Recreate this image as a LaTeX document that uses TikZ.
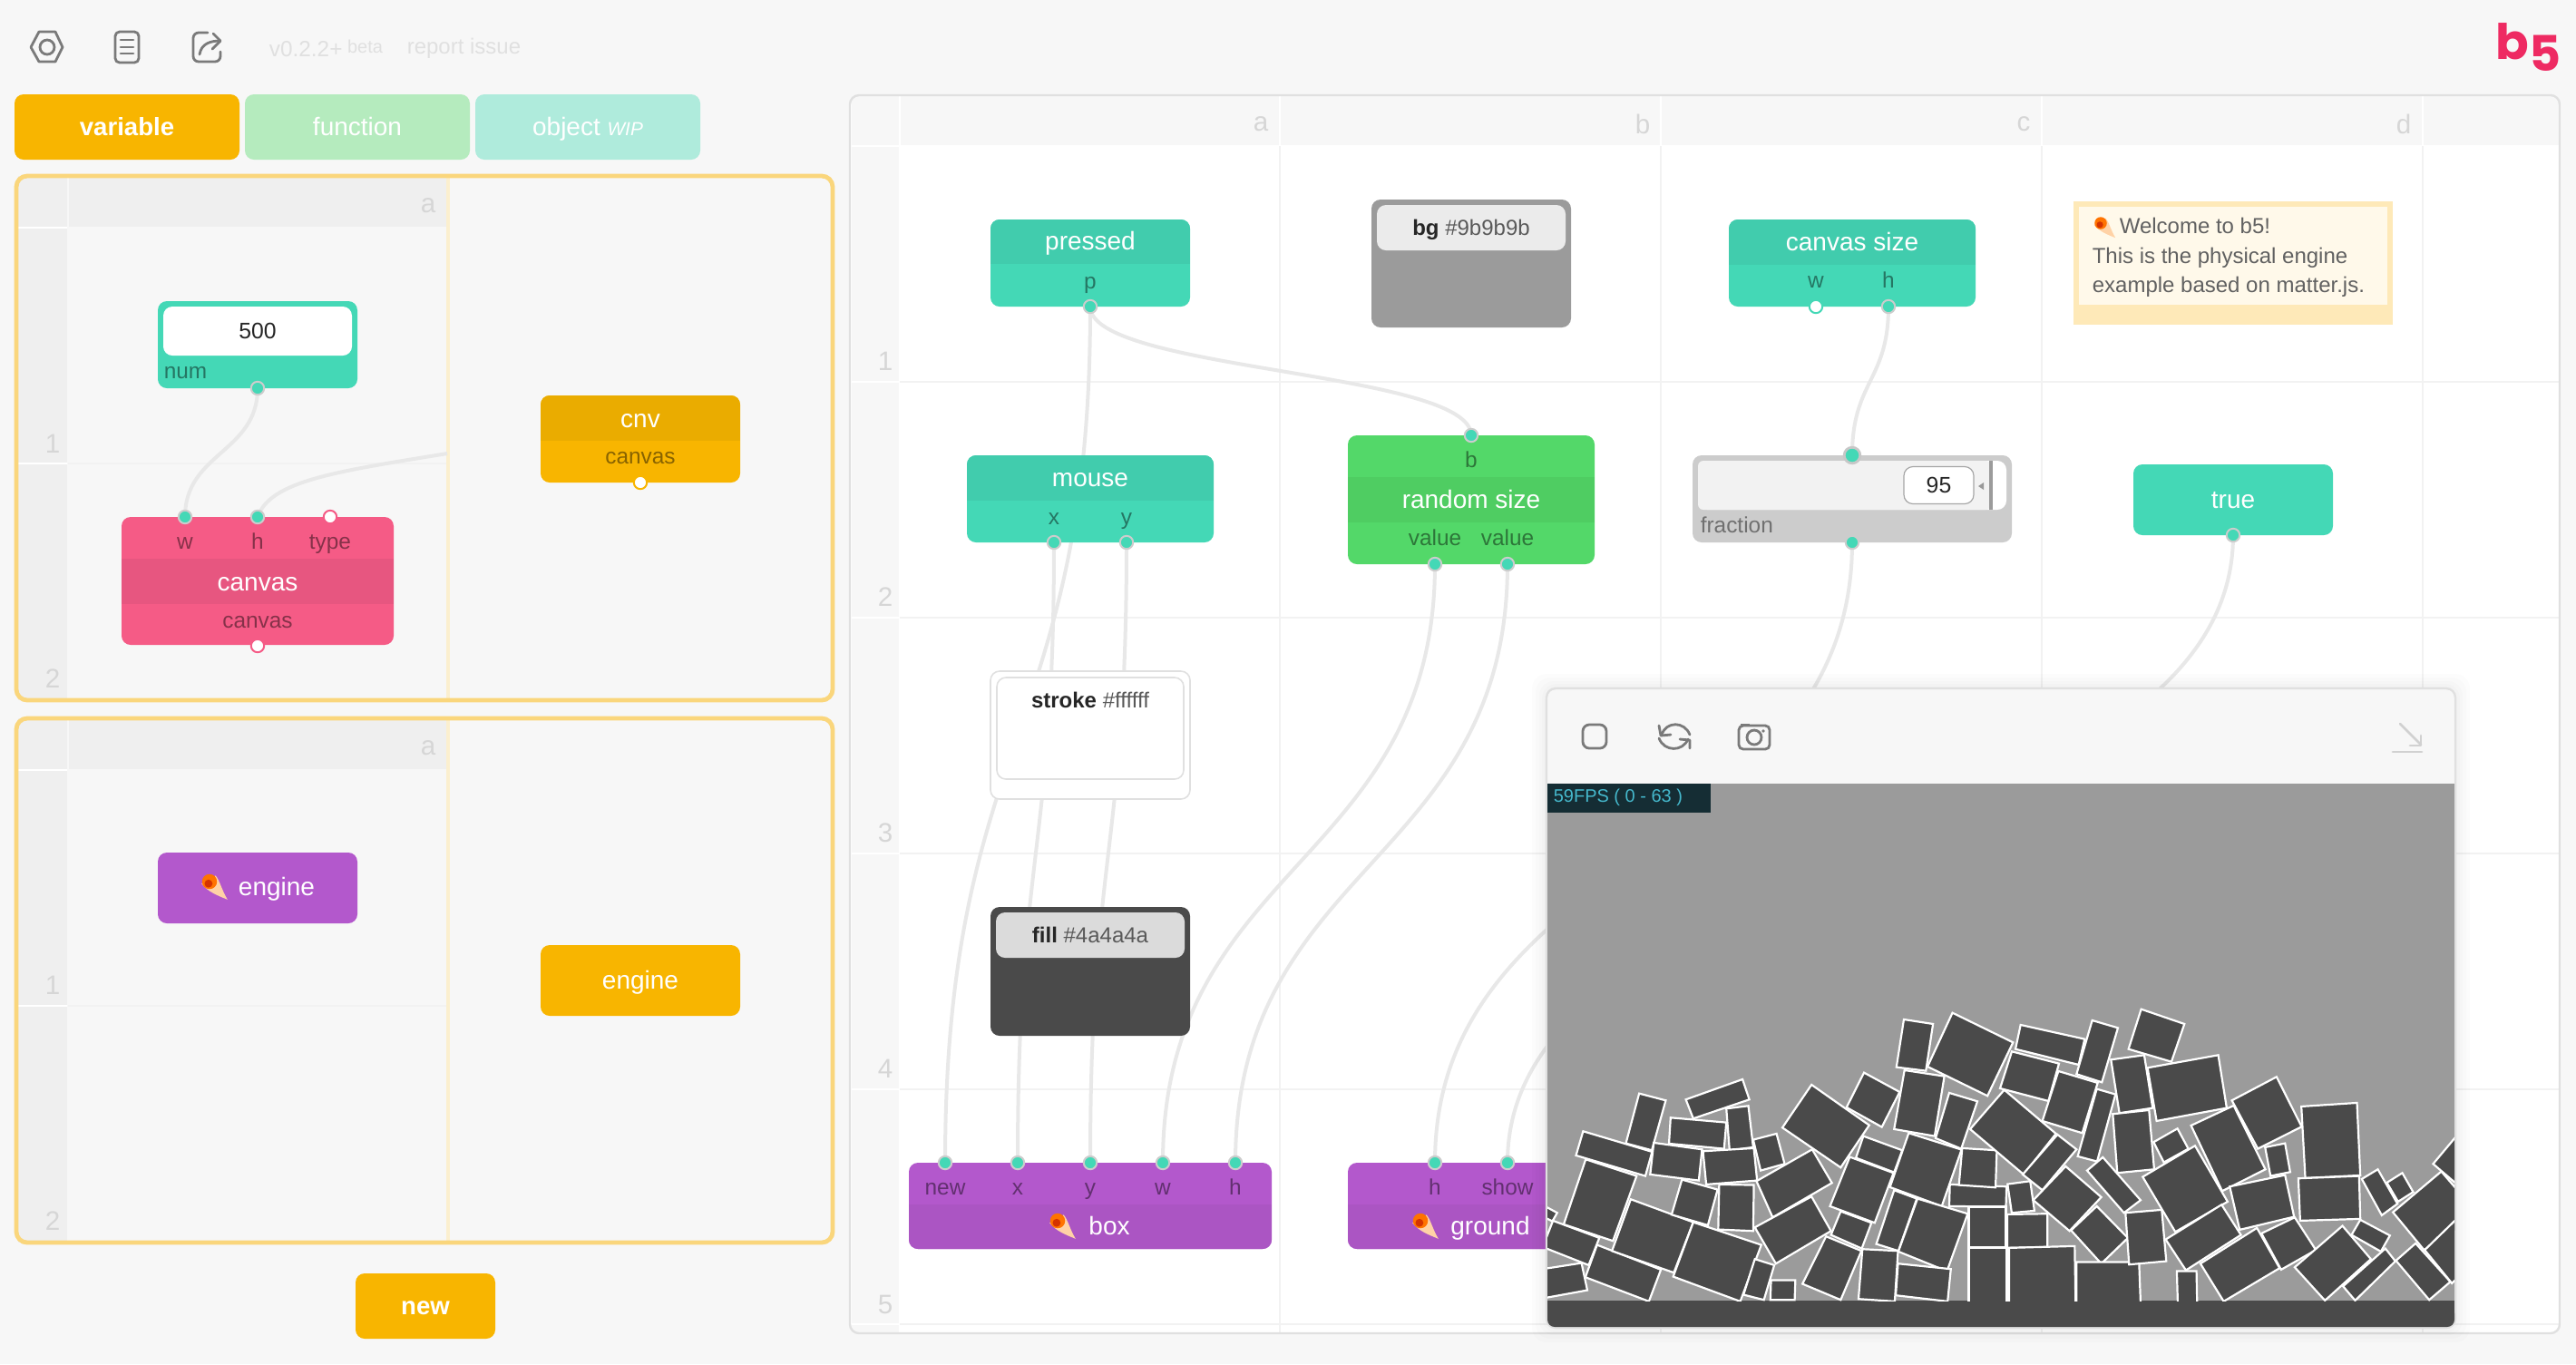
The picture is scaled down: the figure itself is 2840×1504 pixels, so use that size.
\documentclass[tikz,border=0pt]{standalone}
\usepackage{fontspec}
\setmainfont{Liberation Sans}
\newfontfamily\logofont{Poppins}
\usepackage{tikz}
\usetikzlibrary{arrows.meta}
\pgfdeclarelayer{back}
\pgfdeclarelayer{wires}
\pgfsetlayers{back,wires,main}
\definecolor{page}{HTML}{F7F7F7}
\definecolor{mint}{HTML}{44D8B6}
\definecolor{darkmint}{HTML}{41CCAD}
\definecolor{rose}{HTML}{F55B86}
\definecolor{darkrose}{HTML}{E75680}
\definecolor{amber}{HTML}{F8B500}
\definecolor{darkamber}{HTML}{EAAC00}
\definecolor{leaf}{HTML}{53D869}
\definecolor{darkleaf}{HTML}{4FCD62}
\definecolor{plum}{HTML}{B358CC}
\definecolor{darkplum}{HTML}{AB55C3}
\definecolor{edge}{HTML}{FAD67C}
\definecolor{divider}{HTML}{FBEFCF}
\definecolor{gridline}{HTML}{F2F2F2}
\definecolor{rowhead}{HTML}{EFEFEF}
\definecolor{hint}{HTML}{D6D6D6}
\definecolor{brickgray}{HTML}{4A4A4A}
\definecolor{skygray}{HTML}{9B9B9B}
\definecolor{icongray}{HTML}{7A7A7A}
\definecolor{fntab}{HTML}{B5EBBE}
\definecolor{objtab}{HTML}{AFEBDC}
\definecolor{notedge}{HTML}{FEE9B8}
\definecolor{notefill}{HTML}{FFF9EA}
\definecolor{logopink}{HTML}{EE2A62}
\definecolor{fpsback}{HTML}{152D34}
\definecolor{fpstext}{HTML}{45B8CC}
\tikzset{
  size/.style 2 args={minimum width=#1*.25pt,minimum height=#2*.25pt},
  tile/.style={rounded corners=2.5pt,inner sep=0pt,outer sep=0pt},
  title/.style={inner sep=0pt,text=white,font=\fontsize{7}{8}\selectfont,text height=5.9pt,text depth=1.4pt},
  tag/.style={inner sep=0pt,text=black,text opacity=.45,font=\fontsize{6.1}{7}\selectfont,text height=4.9pt,text depth=1.2pt},
  head/.style={inner sep=0pt,text=hint,font=\fontsize{7.4}{8}\selectfont},
  dark/.style={inner sep=0pt,text=black!85,font=\fontsize{6}{7}\selectfont,text height=5.2pt,text depth=1.2pt},
  port/.style={circle,inner sep=0pt,minimum size=3.6pt,line width=.5pt,fill=mint,draw=black!20},
  openport/.style={circle,inner sep=0pt,minimum size=3.6pt,line width=.5pt,fill=white,draw=#1},
  wire/.style={draw=black!9,line width=1pt},
  icon/.style={draw=icongray,line width=.7pt,line cap=round,line join=round},
  brick/.style={fill=brickgray,draw=white,line width=.55pt,line join=miter},
  comet/.pic={
    \fill[orange!35!white] (-8,2) .. controls (-2,10) and (8,14) .. (18,18)
      .. controls (12,8) and (10,-2) .. (6,-6) -- cycle;
    \fill[orange!90!red] (0,0) circle[radius=7.5];
    \fill[red!70!black,opacity=.55] (-1,2) circle[radius=4];
  },
}
\newcommand\band[4]{%
  \begin{scope}
    \clip[rounded corners=2.5pt] (#1.south west) rectangle (#1.north east);
    \fill[#2] (#1.west |- 0,#3) rectangle (#1.east |- 0,#4);
  \end{scope}}
\newcommand\wirelink[3]{\draw[wire] (#1.center) .. controls +(0,#3) and +(0,-#3) .. (#2.center);}
\newcommand\brk[4]{\draw[brick] #1 -- #2 -- #3 -- #4 -- cycle;}

\begin{document}
\begin{tikzpicture}[x=.25pt,y=-.25pt]
  \useasboundingbox (0,0) rectangle (2840,1504);

  \begin{pgfonlayer}{back}
  \fill[page] (0,0) rectangle (2840,1504);

  %% left panels
  \foreach \top/\bot/\hb/\row in {194/772/250/511, 792/1370/848/1109}{
    \fill[rowhead] (20,\top) rectangle (74,\bot);
    \fill[rowhead] (76,\top) rectangle (493,\hb);
    \draw[white,line width=.5pt] (20,\hb+1) -- (74,\hb+1);
    \draw[white,line width=.5pt] (20,\row) -- (74,\row);
    \draw[gridline,line width=.5pt] (75,\row) -- (493,\row);
    \draw[divider,line width=.9pt] (494,\top) -- (494,\bot);
    \draw[edge,line width=1.2pt,rounded corners=3pt] (18,\top) rectangle (918,\bot);
  }

  %% main sheet
  \fill[white,rounded corners=2.5pt] (937,105) rectangle (2822,1470);
  \fill[page] (939,106) rectangle (2821,160);
  \fill[page] (939,106) rectangle (991,1469);
  \foreach \cx in {1411,1831,2251,2671}{
    \draw[gridline,line width=.4pt] (\cx,161) -- (\cx,1469);
    \draw[white,line width=.5pt] (\cx,106) -- (\cx,160);
  }
  \foreach \cy in {421,681,941,1201,1460}{
    \draw[gridline,line width=.5pt] (992,\cy) -- (2821,\cy);
    \draw[white,line width=.5pt] (939,\cy) -- (991,\cy);
  }
  \draw[white,line width=.5pt] (992,106) -- (992,160);
  \draw[white,line width=.5pt] (939,161) -- (991,161);
  \draw[black!12,line width=.6pt,rounded corners=2.5pt] (937,105) rectangle (2822,1470);
  \end{pgfonlayer}

  %% head labels
  \node[head] (lefta) at (472,227) {a};
  \node[head] (leftone) at (58,489) {1};
  \node[head] (lefttwo) at (58,748) {2};
  \node[head] (lowera) at (472,825) {a};
  \node[head] (lowerone) at (58,1086) {1};
  \node[head] (lowertwo) at (58,1346) {2};
  \node[head] (cola) at (1390,137) {a};
  \node[head] (colb) at (1811,137) {b};
  \node[head] (colc) at (2231,137) {c};
  \node[head] (cold) at (2650,137) {d};
  \node[head] (rowone) at (976,398) {1};
  \node[head] (rowtwo) at (976,658) {2};
  \node[head] (rowthree) at (976,918) {3};
  \node[head] (rowfour) at (976,1178) {4};
  \node[head] (rowfive) at (976,1438) {5};

  %% top bar
  \draw[icon] (34,52) -- (43,35) -- (61,35) -- (69,52) -- (61,68) -- (43,68) -- cycle;
  \draw[icon] (52,52) circle[radius=8];
  \draw[icon,rounded corners=1.2pt] (127,35) rectangle (153,69);
  \foreach \ly in {44,52,59} \draw[icon] (133,\ly) -- (147,\ly);
  \draw[icon,rounded corners=1.5pt] (229,36) -- (213,36) -- (213,68) -- (243,68) -- (243,57);
  \draw[icon] (235,37) -- (243,45) -- (234,54);
  \draw[icon] (220,60) .. controls (222,48) and (232,45) .. (243,45);
  \node[anchor=west,inner sep=0pt,text=black!12,font=\fontsize{6.1}{7}\selectfont] (version) at (296,53)
    {v0.2.2+\raisebox{1pt}{\fontsize{5}{6}\selectfont\ beta}};
  \node[anchor=west,inner sep=0pt,text=black!12,font=\fontsize{6}{7}\selectfont] (report) at (448,53) {report issue};
  \node[anchor=east,inner sep=0pt,text=logopink,font=\logofont\bfseries\fontsize{13.5}{15}\selectfont] (logo) at (2824,52)
    {b\raisebox{-3.4pt}{5}};

  %% tabs
  \node[tile,size={248}{72},fill=amber] (vartab) at (140,140) {};
  \node[title,font=\bfseries\fontsize{6.9}{8}\selectfont] (vartxt) at (140,140) {variable};
  \node[tile,size={248}{72},fill=fntab] (funtab) at (394,140) {};
  \node[title] (funtxt) at (394,140) {function};
  \node[tile,size={248}{72},fill=objtab] (objtabbtn) at (648,140) {};
  \node[title] (objtxt) at (648,140) {object {\itshape\fontsize{5.2}{6}\selectfont WIP}};

  %% upper panel
  \node[tile,size={220}{96},fill=mint] (num) at (284,380) {};
  \node[tile,size={208}{54},fill=white,text=black!85,font=\fontsize{6.2}{7}\selectfont] (numbox) at (284,365) {500};
  \node[tag,anchor=west] (numtag) at (180,410) {num};
  \node[port] (numout) at (284,428) {};

  \node[tile,size={300}{141},fill=rose] (canvas) at (284,640.5) {};
  \band{canvas}{darkrose}{616}{666}
  \node[title] (canvastxt) at (284,642) {canvas};
  \node[tag] (canvasw) at (204,598) {w};
  \node[tag] (canvash) at (284,598) {h};
  \node[tag] (canvastype) at (364,598) {type};
  \node[tag] (canvastag) at (284,685) {canvas};
  \node[port] (canvaswin) at (204,570) {};
  \node[port] (canvashin) at (284,570) {};
  \node[openport=rose] (canvastypein) at (364,570) {};
  \node[openport=rose] (canvasout) at (284,712) {};

  \node[tile,size={220}{96},fill=amber] (cnv) at (706,484) {};
  \band{cnv}{darkamber}{436}{486}
  \node[title] (cnvtxt) at (706,462) {cnv};
  \node[tag] (cnvtag) at (706,504) {canvas};
  \node[openport=amber] (cnvout) at (706,532) {};
  \coordinate (cnvedge) at (493,500);

  %% lower panel
  \node[tile,size={220}{78},fill=plum] (engine) at (284,979) {};
  \pic[scale=1.1] at (231,972) {comet};
  \node[title] (enginetxt) at (305,978) {engine};
  \node[tile,size={220}{78},fill=amber] (enginevar) at (706,1081) {};
  \node[title] (enginevartxt) at (706,1081) {engine};
  \node[tile,size={154}{72},fill=amber] (newbtn) at (469,1440) {};
  \node[title,font=\bfseries\fontsize{6.9}{8}\selectfont] (newtxt) at (469,1440) {new};

  %% row 1
  \node[tile,size={220}{96},fill=mint] (pressed) at (1202,290) {};
  \band{pressed}{darkmint}{242}{291}
  \node[title] (pressedtxt) at (1202,266) {pressed};
  \node[tag] (pressedp) at (1202,311) {p};
  \node[port] (pout) at (1202,338) {};

  \node[tile,size={220}{141},fill=skygray] (bg) at (1622,290.5) {};
  \node[tile,size={208}{50},fill=black!8] (bgbox) at (1622,251) {};
  \node[dark] (bgtxt) at (1622,251) {\textbf{bg} {\color{black!65}\#9b9b9b}};

  \node[tile,size={272}{96},fill=mint] (size) at (2042,290) {};
  \band{size}{darkmint}{242}{292}
  \node[title] (sizetxt) at (2042,267) {canvas size};
  \node[tag] (sizew) at (2002,310) {w};
  \node[tag] (sizeh) at (2082,310) {h};
  \node[openport=mint] (sizewout) at (2002,338) {};
  \node[port] (sizehout) at (2082,338) {};

  \node[size={352}{136},fill=notedge,inner sep=0pt] (note) at (2462,290) {};
  \node[size={340}{108},fill=notefill,inner sep=0pt] (notebox) at (2462,282) {};
  \pic[scale=.9] at (2316,246) {comet};
  \node[anchor=west,inner sep=0pt,align=left,text=black!62,font=\fontsize{6}{8.1}\selectfont] (notetxt) at (2306,284)
    {\hspace{7.5pt}Welcome to b5!\\This is the physical engine\\example based on matter.js.};

  %% row 2
  \node[tile,size={272}{96},fill=mint] (mouse) at (1202,550) {};
  \band{mouse}{darkmint}{502}{552}
  \node[title] (mousetxt) at (1202,527) {mouse};
  \node[tag] (mousex) at (1162,571) {x};
  \node[tag] (mousey) at (1242,571) {y};
  \node[port] (mousexout) at (1162,598) {};
  \node[port] (mouseyout) at (1242,598) {};

  \node[tile,size={272}{142},fill=leaf] (random) at (1622,551) {};
  \band{random}{darkleaf}{526}{576}
  \node[title] (randomtxt) at (1622,551) {random size};
  \node[tag] (randomb) at (1622,508) {b};
  \node[tag] (randomva) at (1582,594) {value};
  \node[tag] (randomvb) at (1662,594) {value};
  \node[port] (randomin) at (1622,480) {};
  \node[port] (randomaout) at (1582,622) {};
  \node[port] (randombout) at (1662,622) {};

  \node[tile,size={352}{96},fill=black!20] (fraction) at (2042,550) {};
  \node[tile,size={340}{54},fill=white] (slider) at (2042,535) {};
  \fill[black!5,rounded corners=1.5pt] (1872,508) rectangle (2195,562);
  \draw[skygray,line width=.8pt] (2195,508) -- (2195,562);
  \node[tile,size={77}{41},fill=white,draw=black!35,line width=.3pt,text=black!85,font=\fontsize{6.2}{7}\selectfont] (fracval) at (2137.5,535) {95};
  \fill[black!40] (2181,536) -- (2187,532) -- (2187,540) -- cycle;
  \node[tag,anchor=west] (fractag) at (1874,580) {fraction};
  \node[port,minimum size=4.4pt,draw=black!22,line width=.7pt] (fracin) at (2042,502) {};
  \node[port] (fracout) at (2042,598) {};

  \node[tile,size={220}{78},fill=mint] (truth) at (2462,551) {};
  \node[title] (truthtxt) at (2462,551) {true};
  \node[port] (truthout) at (2462,590) {};

  %% rows 3 and 4
  \node[tile,size={220}{141},fill=white,draw=black!12,line width=.4pt] (stroke) at (1202,810.5) {};
  \node[tile,size={206}{112},fill=white,draw=black!12,line width=.4pt] (strokebox) at (1202,803) {};
  \node[dark] (stroketxt) at (1202,772) {\textbf{stroke} {\color{black!65}\#ffffff}};
  \node[tile,size={220}{142},fill=brickgray] (fillnode) at (1202,1071) {};
  \node[tile,size={208}{50},fill=black!14] (fillbox) at (1202,1031) {};
  \node[dark] (filltxt) at (1202,1031) {\textbf{fill} {\color{black!65}\#4a4a4a}};

  %% row 5
  \node[tile,size={400}{95},fill=plum] (box) at (1202,1329.5) {};
  \band{box}{darkplum}{1328}{1378}
  \pic[scale=1.1] at (1166,1346) {comet};
  \node[title] (boxtxt) at (1223,1352) {box};
  \foreach \px/\pn/\pt in {1042/new/new,1122/x/x,1202/y/y,1282/w/w,1362/h/h}{
    \node[tag] (box\pn) at (\px,1310) {\pt};
    \node[port] (box\pn in) at (\px,1282) {};
  }
  \node[tile,size={404}{95},fill=plum] (ground) at (1688,1329.5) {};
  \band{ground}{darkplum}{1328}{1378}
  \pic[scale=1.1] at (1566,1346) {comet};
  \node[title] (groundtxt) at (1643,1352) {ground};
  \node[tag] (groundh) at (1582,1310) {h};
  \node[tag] (groundshow) at (1662,1310) {show};
  \node[port] (groundhin) at (1582,1282) {};
  \node[port] (groundshowin) at (1662,1282) {};

  \begin{pgfonlayer}{wires}
  \wirelink{numout}{canvaswin}{71} %% num -> w
  \draw[wire] (canvashin.center) .. controls (298,530) and (370,520) .. (cnvedge); %% h -> panel edge
  \wirelink{pout}{randomin}{71} %% p -> b
  \wirelink{pout}{boxnewin}{472} %% p -> new
  \wirelink{mousexout}{boxxin}{342} %% x -> x
  \wirelink{mouseyout}{boxyin}{342} %% y -> y
  \wirelink{randomaout}{boxwin}{330} %% value -> w
  \wirelink{randombout}{boxhin}{330} %% value -> h
  \wirelink{sizehout}{fracin}{82} %% h -> fraction
  \wirelink{fracout}{groundhin}{342} %% fraction -> h
  \wirelink{truthout}{groundshowin}{346} %% true -> show
  \end{pgfonlayer}

  %% preview window
  \foreach \s in {16,12,8,5,2}
    \fill[black,opacity=.012,rounded corners=4pt] ({1705-\s},{759-\s}) rectangle ({2707+\s},{1464+\s});
  \fill[page,rounded corners=2.5pt] (1705,759) rectangle (2707,1464);
  \draw[black!12,line width=.6pt,rounded corners=2.5pt] (1705,759) rectangle (2707,1464);

  \draw[icon,rounded corners=1.8pt] (1745,799) rectangle (1771,825);
  \draw[icon] (1832,810) .. controls (1837,795) and (1857,795) .. (1863,810);
  \draw[icon] (1829,800) -- (1831,811) -- (1842,810);
  \draw[icon] (1829,814) .. controls (1835,829) and (1855,829) .. (1861,815);
  \draw[icon] (1852,815) -- (1863,816) -- (1863,825);
  \draw[icon,rounded corners=1.2pt] (1917,800) rectangle (1951,826);
  \fill[icongray] (1919,798) rectangle (1929,801);
  \draw[icon] (1934,813) circle[radius=8];
  \fill[icongray] (1944,806) circle[radius=1.8];
  \draw[icon,black!18] (2646,798) -- (2669,821);
  \draw[icon,black!18] (2657,822) -- (2669,822) -- (2669,811);
  \draw[icon,black!18] (2638,829) -- (2670,829);

  \fill[skygray] (1706,864) rectangle (2706,1434);
  \fill[brickgray,rounded corners=2pt] (1706,1440) rectangle (2706,1463);
  \fill[brickgray] (1706,1434) rectangle (2706,1450);

  \begin{scope}
  \clip (1706,864) rectangle (2706,1434);
  %% crops of the pile: left half
  \begin{scope}[shift={(1690,1050)},x=.0893pt,y=-.0833pt]
    \brk{(20,830)}{(75,862)}{(60,890)}{(5,860)}
    \brk{(62,888)}{(205,945)}{(172,1035)}{(30,975)}
    \brk{(30,1048)}{(150,1028)}{(168,1118)}{(30,1145)}
    \brk{(198,968)}{(395,1050)}{(358,1155)}{(162,1075)}
    \brk{(328,467)}{(410,490)}{(367,655)}{(287,632)}
    \brk{(163,685)}{(320,740)}{(247,955)}{(95,900)}
    \brk{(155,592)}{(368,660)}{(347,740)}{(133,672)}
    \brk{(302,817)}{(495,893)}{(435,1060)}{(244,988)}
    \brk{(495,893)}{(705,968)}{(640,1155)}{(433,1073)}
    \brk{(460,752)}{(570,785)}{(540,903)}{(428,868)}
    \brk{(425,547)}{(597,563)}{(590,650)}{(420,633)}
    \brk{(373,630)}{(522,652)}{(512,755)}{(362,735)}
    \brk{(472,487)}{(647,420)}{(668,487)}{(495,550)}
    \brk{(597,517)}{(665,508)}{(680,645)}{(607,655)}
    \brk{(525,658)}{(682,648)}{(692,755)}{(535,768)}
    \brk{(575,768)}{(682,770)}{(680,922)}{(572,917)}
    \brk{(680,620)}{(752,600)}{(777,700)}{(703,722)}
    \brk{(860,438)}{(1038,572)}{(950,712)}{(770,580)}
    \brk{(690,757)}{(862,652)}{(923,763)}{(740,877)}
    \brk{(860,808)}{(920,922)}{(750,1030)}{(685,910)}
    \brk{(1022,398)}{(1132,462)}{(1077,578)}{(968,513)}
    \brk{(1020,608)}{(1140,655)}{(1115,728)}{(997,680)}
    \brk{(978,677)}{(1113,730)}{(1055,895)}{(917,840)}
    \brk{(950,857)}{(1045,895)}{(1015,980)}{(920,935)}
    \brk{(905,940)}{(1014,988)}{(950,1150)}{(832,1097)}
    \brk{(1017,982)}{(1127,988)}{(1117,1155)}{(1005,1147)}
    \brk{(685,1015)}{(745,1035)}{(713,1150)}{(650,1133)}
    \brk{(735,1085)}{(810,1085)}{(808,1150)}{(733,1150)}
    \brk{(1145,222)}{(1235,237)}{(1213,392)}{(1122,380)}
    \brk{(1295,200)}{(1482,298)}{(1403,475)}{(1218,378)}
    \brk{(1147,390)}{(1270,410)}{(1240,608)}{(1115,585)}
    \brk{(1285,465)}{(1372,493)}{(1322,650)}{(1243,615)}
    \brk{(1160,598)}{(1323,653)}{(1262,840)}{(1102,777)}
    \brk{(1115,787)}{(1185,815)}{(1128,988)}{(1060,965)}
    \brk{(1187,815)}{(1342,865)}{(1278,1055)}{(1128,990)}
    \brk{(1127,1030)}{(1290,1048)}{(1280,1155)}{(1120,1135)}
    \brk{(1287,768)}{(1462,775)}{(1460,842)}{(1285,840)}
    \brk{(1325,648)}{(1432,655)}{(1428,778)}{(1315,770)}
    \brk{(1465,767)}{(1535,757)}{(1548,855)}{(1478,862)}
    \brk{(1345,842)}{(1460,842)}{(1460,975)}{(1345,975)}
    \brk{(1345,978)}{(1463,978)}{(1463,1165)}{(1345,1165)}
  \end{scope}
  %% crops of the pile: right half
  \begin{scope}[shift={(2240,1050)},x=.0833pt,y=-.0833pt]
    \brk{(-81,867)}{(52,865)}{(52,975)}{(-81,978)}
    \brk{(-75,978)}{(142,972)}{(145,1160)}{(-75,1160)}
    \brk{(-37,240)}{(175,287)}{(155,372)}{(-54,320)}
    \brk{(-66,328)}{(90,368)}{(55,492)}{(-105,450)}
    \brk{(88,393)}{(218,432)}{(167,598)}{(35,558)}
    \brk{(-91,455)}{(80,600)}{(-27,735)}{(-204,585)}
    \brk{(85,603)}{(148,652)}{(35,787)}{(-30,735)}
    \brk{(112,708)}{(230,810)}{(125,922)}{(5,820)}
    \brk{(215,840)}{(318,945)}{(230,1030)}{(130,920)}
    \brk{(235,678)}{(360,820)}{(305,862)}{(183,722)}
    \brk{(148,1025)}{(355,1025)}{(360,1160)}{(148,1160)}
    \brk{(310,862)}{(430,852)}{(445,1022)}{(322,1033)}
    \brk{(215,452)}{(277,470)}{(216,692)}{(152,675)}
    \brk{(200,225)}{(285,250)}{(232,430)}{(148,403)}
    \brk{(362,188)}{(505,237)}{(462,362)}{(320,320)}
    \brk{(262,355)}{(372,340)}{(400,515)}{(290,532)}
    \brk{(268,535)}{(388,522)}{(405,718)}{(283,730)}
    \brk{(383,382)}{(617,340)}{(645,515)}{(413,558)}
    \brk{(403,628)}{(482,583)}{(518,650)}{(437,695)}
    \brk{(527,573)}{(668,507)}{(773,718)}{(630,790)}
    \brk{(540,640)}{(648,825)}{(475,925)}{(367,743)}
    \brk{(662,490)}{(810,412)}{(893,577)}{(748,650)}
    \brk{(772,645)}{(838,632)}{(855,727)}{(790,740)}
    \brk{(655,775)}{(838,737)}{(868,875)}{(688,918)}
    \brk{(443,950)}{(628,835)}{(692,935)}{(510,1052)}
    \brk{(558,1030)}{(745,912)}{(820,1045)}{(635,1155)}
    \brk{(760,930)}{(870,877)}{(940,985)}{(825,1050)}
    \brk{(480,1055)}{(545,1055)}{(547,1160)}{(483,1160)}
    \brk{(892,510)}{(1076,498)}{(1087,738)}{(905,747)}
    \brk{(882,748)}{(1083,740)}{(1087,882)}{(888,888)}
    \brk{(1092,750)}{(1145,718)}{(1210,832)}{(1158,870)}
    \brk{(1175,762)}{(1226,730)}{(1262,793)}{(1212,825)}
    \brk{(1028,905)}{(1122,1015)}{(970,1152)}{(870,1042)}
    \brk{(1087,885)}{(1185,937)}{(1155,990)}{(1058,935)}
    \brk{(1170,980)}{(1203,1022)}{(1070,1152)}{(1030,1105)}
    \brk{(1195,860)}{(1355,725)}{(1480,870)}{(1298,985)}
    \brk{(1205,1020)}{(1270,963)}{(1385,1090)}{(1315,1150)}
    \brk{(1480,810)}{(1300,985)}{(1390,1095)}{(1560,930)}
    \brk{(1328,700)}{(1420,590)}{(1500,680)}{(1398,760)}
  \end{scope}
  \end{scope}

  \fill[fpsback] (1706,864) rectangle (1886,896);
  \node[anchor=west,inner sep=0pt,text=fpstext,font=\fontsize{5}{6}\selectfont] (fps) at (1712,879) {59FPS ( 0 - 63 )};
\end{tikzpicture}
\end{document}
